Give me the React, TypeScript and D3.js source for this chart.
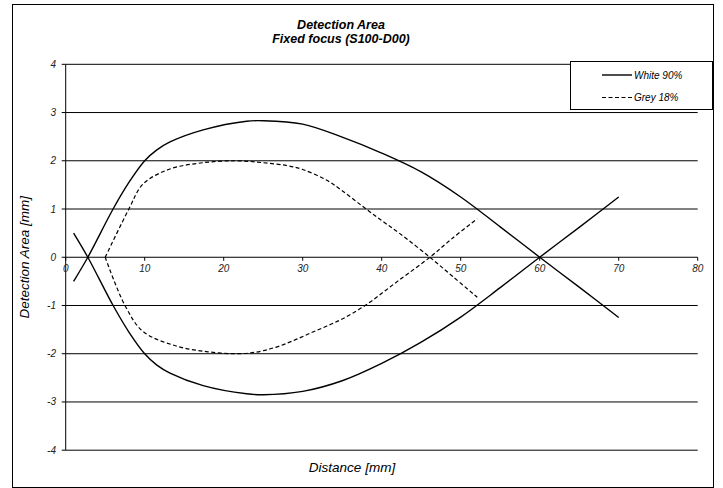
import React from "react";
import * as d3 from "d3";

const xTicks = [0, 10, 20, 30, 40, 50, 60, 70, 80];
const yTicks = [-4, -3, -2, -1, 0, 1, 2, 3, 4];

const whiteUpperX = [1, 2.8, 6, 8, 10, 11.5, 13.2, 17.4, 22.9, 25, 30, 35, 40, 45, 50, 55, 60, 65, 70];
const whiteUpperY = [-0.5, 0, 1.0, 1.55, 2.0, 2.22, 2.39, 2.64, 2.82, 2.83, 2.76, 2.49, 2.16, 1.77, 1.25, 0.63, 0, -0.62, -1.25];

const whiteLowerX = [1, 2.8, 6, 8, 10, 11.5, 13.2, 17.4, 22.9, 25, 30, 35, 40, 45, 50, 55, 60, 65, 70];
const whiteLowerY = [0.5, 0, -1.0, -1.55, -2.0, -2.23, -2.4, -2.66, -2.83, -2.85, -2.78, -2.56, -2.2, -1.76, -1.24, -0.63, 0, 0.62, 1.25];

const greyUpperX = [5, 8, 9.8, 13.2, 17.4, 21.6, 25, 28, 30, 33, 35, 37.7, 40, 42.3, 46.1, 49, 52.1];
const greyUpperY = [0, 1.0, 1.52, 1.83, 1.96, 2.0, 1.96, 1.9, 1.82, 1.6, 1.38, 1.04, 0.76, 0.49, 0, -0.4, -0.83];

const greyLowerX = [5, 7.5, 9.8, 14, 18, 21.5, 24, 26.5, 28.8, 31, 33, 35, 37.9, 42, 46.1, 49, 52.1];
const greyLowerY = [0, -1.0, -1.54, -1.84, -1.96, -2.0, -1.97, -1.87, -1.73, -1.57, -1.43, -1.28, -1.0, -0.5, 0, 0.4, 0.8];

const seriesNames = ["White 90%", "Grey 18%"];

const FONT = "'Liberation Sans', Arial, sans-serif";

export default function App() {
  const x = d3.scaleLinear().domain([0, 80]).range([65.7, 697.7]);
  const y = d3.scaleLinear().domain([-4, 4]).range([450.2, 64.3]);

  const line = (xs: number[], ys: number[]) =>
    d3
      .line<number>()
      .x((_, i) => x(xs[i]))
      .y((d) => y(d))
      .curve(d3.curveCatmullRom.alpha(0.5))(ys) || "";

  const dash = "4,2.5";

  return (
    <svg
      width={723}
      height={488}
      style={{ position: "absolute", left: 0, top: 0, background: "#fff" }}
      fontFamily={FONT}
    >
      <rect x={0} y={0} width={723} height={488} fill="#fff" />
      <rect x={12.5} y={4.5} width={701} height={483} fill="none" stroke="#000" strokeWidth={1} />

      {/* title */}
      <text x={341} y={28.5} textAnchor="middle" fontSize={12.5} fontWeight="bold" fontStyle="italic" fill="#000">
        Detection Area
      </text>
      <text x={341} y={42.5} textAnchor="middle" fontSize={12.5} fontWeight="bold" fontStyle="italic" fill="#000">
        Fixed focus (S100-D00)
      </text>

      {/* grid lines */}
      {yTicks.map((t) => (
        <line key={"g" + t} x1={x(0)} x2={x(80)} y1={y(t)} y2={y(t)} stroke="#000" strokeWidth={1} />
      ))}
      {/* y axis */}
      <line x1={x(0)} x2={x(0)} y1={y(4)} y2={y(-4)} stroke="#000" strokeWidth={1} />
      {yTicks.map((t) => (
        <g key={"yt" + t}>
          <line x1={x(0) - 4} x2={x(0)} y1={y(t)} y2={y(t)} stroke="#000" />
          <text x={56} y={y(t)} dy="0.35em" textAnchor="end" fontSize={10} fontStyle="italic" fill="#222">
            {t}
          </text>
        </g>
      ))}
      {/* x ticks */}
      {xTicks.map((t) => (
        <g key={"xt" + t}>
          <line x1={x(t)} x2={x(t)} y1={y(0)} y2={y(0) + 3.5} stroke="#000" />
          <text x={x(t)} y={272} textAnchor="middle" fontSize={10} fontStyle="italic" fill="#222">
            {t}
          </text>
        </g>
      ))}

      {/* series */}
      <path d={line(whiteUpperX, whiteUpperY)} fill="none" stroke="#000" strokeWidth={1.4} />
      <path d={line(whiteLowerX, whiteLowerY)} fill="none" stroke="#000" strokeWidth={1.4} />
      <path d={line(greyUpperX, greyUpperY)} fill="none" stroke="#000" strokeWidth={1.2} strokeDasharray={dash} />
      <path d={line(greyLowerX, greyLowerY)} fill="none" stroke="#000" strokeWidth={1.2} strokeDasharray={dash} />

      {/* axis titles */}
      <text
        transform={`translate(29,${y(0)}) rotate(-90)`}
        textAnchor="middle"
        fontSize={13.5}
        fontStyle="italic"
        fill="#000"
      >
        Detection Area [mm]
      </text>
      <text x={352} y={471.5} textAnchor="middle" fontSize={13.5} fontStyle="italic" fill="#000">
        Distance [mm]
      </text>

      {/* legend */}
      <rect x={570.5} y={61.5} width={142} height={48} fill="#fff" stroke="#000" strokeWidth={1} />
      <line x1={602} x2={632} y1={75} y2={75} stroke="#000" strokeWidth={1.4} />
      <text x={634} y={78.8} fontSize={10} fontStyle="italic" fill="#000">
        {seriesNames[0]}
      </text>
      <line x1={602} x2={632} y1={97.5} y2={97.5} stroke="#000" strokeWidth={1.2} strokeDasharray={dash} />
      <text x={634} y={101} fontSize={10} fontStyle="italic" fill="#000">
        {seriesNames[1]}
      </text>
    </svg>
  );
}
